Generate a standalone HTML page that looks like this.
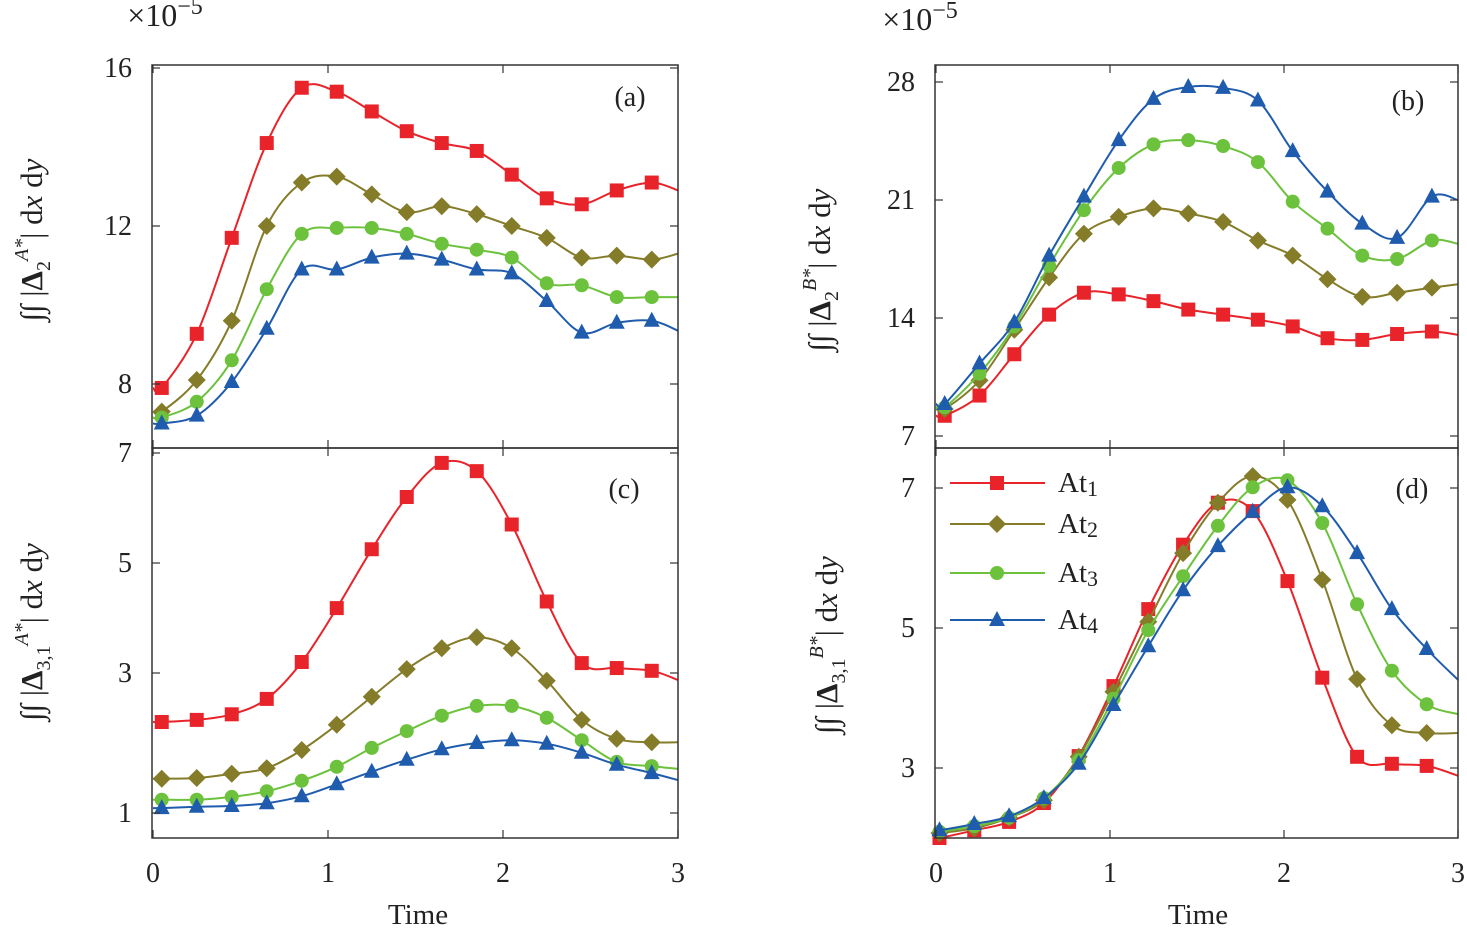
<!DOCTYPE html>
<html><head><meta charset="utf-8">
<style>
body{margin:0;background:#fff;}
svg text{font-family:"Liberation Serif","DejaVu Serif",serif;fill:#222;}
</style></head>
<body>
<svg id="chart" width="1467" height="929" viewBox="0 0 1467 929" xmlns="http://www.w3.org/2000/svg"></svg>
<script>
// ---- data ----
const timeXs = [0.05,0.25,0.45,0.65,0.85,1.05,1.25,1.45,1.65,1.85,2.05,2.25,2.45,2.65,2.85,3.0];
const timeXsD = [0.02,0.22,0.42,0.62,0.82,1.02,1.22,1.42,1.62,1.82,2.02,2.22,2.42,2.62,2.82,3.0];
const seriesNames = ["At1","At2","At3","At4"];
// panel (a) x1e-5
const aRed   = [7.9,9.27,11.7,14.1,15.5,15.4,14.9,14.4,14.1,13.9,13.3,12.7,12.55,12.9,13.1,12.9];
const aOlive = [7.3,8.1,9.6,12.0,13.1,13.25,12.8,12.35,12.5,12.3,12.0,11.7,11.2,11.25,11.15,11.3];
const aGreen = [7.15,7.55,8.6,10.4,11.8,11.95,11.95,11.8,11.55,11.4,11.2,10.55,10.5,10.2,10.2,10.2];
const aBlue  = [7.0,7.2,8.05,9.4,10.9,10.9,11.2,11.3,11.15,10.9,10.8,10.1,9.3,9.55,9.6,9.35];
// panel (b) x1e-5
const bRed   = [8.2,9.4,11.85,14.2,15.5,15.4,15.0,14.5,14.2,13.9,13.5,12.8,12.7,13.05,13.2,13.0];
const bOlive = [8.6,10.3,13.3,16.4,19.0,20.0,20.5,20.2,19.7,18.6,17.7,16.3,15.25,15.5,15.8,16.0];
const bGreen = [8.7,10.7,13.5,17.1,20.4,22.9,24.3,24.55,24.2,23.25,20.9,19.3,17.7,17.5,18.6,18.4];
const bBlue  = [8.9,11.3,13.75,17.7,21.2,24.55,27.0,27.7,27.65,26.9,23.9,21.5,19.6,18.75,21.2,21.0];
// panel (c)
const cRed   = [2.3,2.33,2.41,2.63,3.2,4.18,5.25,6.2,6.82,6.67,5.7,4.3,3.18,3.09,3.04,2.9];
const cOlive = [1.49,1.5,1.56,1.64,1.9,2.26,2.66,3.07,3.45,3.65,3.45,2.89,2.33,2.06,2.01,2.01];
const cGreen = [1.19,1.19,1.23,1.31,1.46,1.66,1.93,2.17,2.39,2.53,2.53,2.36,2.04,1.73,1.67,1.63];
const cBlue  = [1.07,1.09,1.1,1.14,1.24,1.41,1.59,1.76,1.91,2.0,2.04,1.99,1.86,1.69,1.57,1.47];
// panel (d)
const dRed   = [2.0,2.11,2.23,2.5,3.17,4.17,5.27,6.19,6.79,6.67,5.67,4.29,3.16,3.06,3.03,2.89];
const dOlive = [2.07,2.14,2.29,2.54,3.16,4.09,5.09,6.07,6.79,7.17,6.83,5.69,4.27,3.61,3.5,3.5];
const dGreen = [2.09,2.17,2.29,2.57,3.11,3.99,4.97,5.74,6.46,7.01,7.11,6.5,5.34,4.39,3.91,3.77];
const dBlue  = [2.11,2.2,2.31,2.57,3.06,3.9,4.74,5.54,6.17,6.66,7.01,6.74,6.07,5.27,4.7,4.26];
const xTicks = [0,1,2,3];
const aTicks = [8,12,16];
const bTicks = [7,14,21,28];
const cTicks = [1,3,5,7];
const dTicks = [3,5,7];

const colors = ["#e8232a","#857c2a","#6cc23c","#1f5cad"];
const shapes = ["square","diamond","circle","triangle"];
const NS = "http://www.w3.org/2000/svg";
const svg = document.getElementById("chart");
function el(tag, attrs, parent){const e=document.createElementNS(NS,tag);for(const k in attrs)e.setAttribute(k,attrs[k]);(parent||svg).appendChild(e);return e;}

function lin(d0,d1,r0,r1){return v=>r0+(v-d0)/(d1-d0)*(r1-r0);}
function piece(vals,pix){return v=>{for(let i=0;i<vals.length-1;i++){if(v<=vals[i+1]||i===vals.length-2){return pix[i]+(v-vals[i])/(vals[i+1]-vals[i])*(pix[i+1]-pix[i]);}}};}

const panels = [
 {id:"a",x0:152,x1:678,y0:65,y1:448,xs:timeXs,data:[aRed,aOlive,aGreen,aBlue],ticks:aTicks,y:lin(12,16,226,68),label:"(a)",lx:630,ly:106},
 {id:"b",x0:935,x1:1458,y0:65,y1:448,xs:timeXs,data:[bRed,bOlive,bGreen,bBlue],ticks:bTicks,y:lin(7,28,436,82),label:"(b)",lx:1408,ly:110},
 {id:"c",x0:152,x1:678,y0:448,y1:838,xs:timeXs,data:[cRed,cOlive,cGreen,cBlue],ticks:cTicks,y:piece([1,3,5,7],[813,673,563,453]),label:"(c)",lx:624,ly:498},
 {id:"d",x0:935,x1:1458,y0:448,y1:838,xs:timeXsD,data:[dRed,dOlive,dGreen,dBlue],ticks:dTicks,y:lin(3,7,768,488),label:"(d)",lx:1412,ly:498},
];

function smoothPath(pts){
 let d="M"+pts[0][0]+","+pts[0][1];
 for(let i=0;i<pts.length-1;i++){
  const p0=pts[Math.max(0,i-1)],p1=pts[i],p2=pts[i+1],p3=pts[Math.min(pts.length-1,i+2)];
  const c1=[p1[0]+(p2[0]-p0[0])/6,p1[1]+(p2[1]-p0[1])/6];
  const c2=[p2[0]-(p3[0]-p1[0])/6,p2[1]-(p3[1]-p1[1])/6];
  d+=" C"+c1[0].toFixed(1)+","+c1[1].toFixed(1)+" "+c2[0].toFixed(1)+","+c2[1].toFixed(1)+" "+p2[0].toFixed(1)+","+p2[1].toFixed(1);
 }
 return d;
}
function marker(shape,cx,cy,color,g){
 let m;
 if(shape==="square") m=el("rect",{x:cx-7,y:cy-7,width:14,height:14,fill:color},g);
 else if(shape==="diamond") m=el("polygon",{points:`${cx},${cy-9} ${cx+9},${cy} ${cx},${cy+9} ${cx-9},${cy}`,fill:color},g);
 else if(shape==="circle") m=el("circle",{cx:cx,cy:cy,r:7,fill:color},g);
 else m=el("polygon",{points:`${cx},${cy-9} ${cx+8},${cy+6} ${cx-8},${cy+6}`,fill:color},g);
 return m;
}

panels.forEach(p=>{
 const g=el("g",{});
 
 
 const xs=lin(0,3,p.x0+1,p.x1);
 p.data.forEach((vals,si)=>{
  const sg=el("g",{},g);
  
  
  const pts=vals.map((v,i)=>[xs(p.xs[i]),p.y(v)]);
  pts.unshift([xs(0),p.y(vals[0])]);
  const path=el("path",{d:smoothPath(pts),fill:"none",stroke:colors[si],"stroke-width":2},sg);
  
  
  vals.forEach((v,i)=>{
   if(p.xs[i]>2.9) return;
   const m=marker(shapes[si],xs(p.xs[i]),p.y(v),colors[si],sg);
   
   
  });
 });
 const fr=el("rect",{x:p.x0,y:p.y0,width:p.x1-p.x0,height:p.y1-p.y0,fill:"none",stroke:"#333","stroke-width":1.5},g);
 
 
 p.ticks.forEach(t=>{
  const yy=p.y(t);
  el("line",{x1:p.x0,x2:p.x0+8,y1:yy,y2:yy,stroke:"#333","stroke-width":1.2},g);
  el("line",{x1:p.x1,x2:p.x1-8,y1:yy,y2:yy,stroke:"#333","stroke-width":1.2},g);
  const tl=el("text",{x:p.x0-20,y:yy+9,"font-size":28,"text-anchor":"end"},g);
  tl.textContent=t;
  
  
 });
 xTicks.forEach(t=>{
  const xx=xs(t);
  el("line",{x1:xx,x2:xx,y1:p.y1,y2:p.y1-8,stroke:"#333","stroke-width":1.2},g);
  el("line",{x1:xx,x2:xx,y1:p.y0,y2:p.y0+8,stroke:"#333","stroke-width":1.2},g);
  if(p.id==="c"||p.id==="d"){
   const tl=el("text",{x:xx,y:882,"font-size":28,"text-anchor":"middle"},g);
   tl.textContent=t;
   
   
  }
 });
 const lb=el("text",{x:p.lx,y:p.ly,"font-size":28,"text-anchor":"middle"},g);
 lb.textContent=p.label;
 
 
});

function addText(x,y,txt,size,name,rot){
 const t=el("text",{x:x,y:y,"font-size":size,"text-anchor":"middle"});
 if(rot) t.setAttribute("transform",`rotate(-90 ${x} ${y})`);
 t.innerHTML=txt;
 
 
}
addText(418,924,"Time",29,"x-axis-title-left");
addText(1198,924,"Time",29,"x-axis-title-right");
addText(165,26,"×10<tspan dy='-12' font-size='24'>−5</tspan>",32,"exponent-left");
addText(920,30,"×10<tspan dy='-12' font-size='24'>−5</tspan>",32,"exponent-right");
addText(42,240,"∫∫ |<tspan font-weight='bold'>Δ</tspan><tspan dy='8' font-size='20'>2</tspan><tspan dy='-22' font-size='20' font-style='italic'>A*</tspan><tspan dy='14'>| d</tspan><tspan font-style='italic'>x</tspan> d<tspan font-style='italic'>y</tspan>",31,"y-axis-title-a",true);
addText(830,270,"∫∫ |<tspan font-weight='bold'>Δ</tspan><tspan dy='8' font-size='20'>2</tspan><tspan dy='-22' font-size='20' font-style='italic'>B*</tspan><tspan dy='14'>| d</tspan><tspan font-style='italic'>x</tspan> d<tspan font-style='italic'>y</tspan>",31,"y-axis-title-b",true);
addText(42,632,"∫∫ |<tspan font-weight='bold'>Δ</tspan><tspan dy='8' font-size='20'>3,1</tspan><tspan dy='-22' font-size='20' font-style='italic'>A*</tspan><tspan dy='14'>| d</tspan><tspan font-style='italic'>x</tspan> d<tspan font-style='italic'>y</tspan>",31,"y-axis-title-c",true);
addText(837,645,"∫∫ |<tspan font-weight='bold'>Δ</tspan><tspan dy='8' font-size='20'>3,1</tspan><tspan dy='-22' font-size='20' font-style='italic'>B*</tspan><tspan dy='14'>| d</tspan><tspan font-style='italic'>x</tspan> d<tspan font-style='italic'>y</tspan>",31,"y-axis-title-d",true);

// legend
const legY=[483,524,573,620];
const lg=el("g",{});


seriesNames.forEach((n,i)=>{
 const eg=el("g",{},lg);
 
 
 el("line",{x1:950,x2:1045,y1:legY[i],y2:legY[i],stroke:colors[i],"stroke-width":2},eg);
 marker(shapes[i],997,legY[i],colors[i],eg);
 const t=el("text",{x:1058,y:legY[i]+9,"font-size":29},eg);
 t.innerHTML="At<tspan font-size='22' dy='4'>"+(i+1)+"</tspan>";
});
</script>
</body></html>
